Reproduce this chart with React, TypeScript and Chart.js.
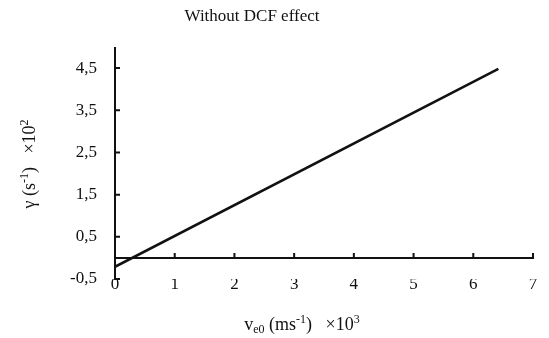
import React, { useEffect, useRef } from "react";
import { Chart, registerables } from "chart.js";

Chart.register(...registerables);

const chartTitle = "Without DCF effect";
const xTicks = [0, 1, 2, 3, 4, 5, 6, 7];
const yTicks = [-0.5, 0.5, 1.5, 2.5, 3.5, 4.5];
const lineX = [0, 6.42];
const lineY = [-0.21, 4.48];

const FONT = "'Liberation Serif', 'Times New Roman', serif";
const INK = "#111";

type Part = { t: string; size: number; dy: number };

function drawRich(ctx: CanvasRenderingContext2D, parts: Part[], x: number, y: number) {
  let total = 0;
  const widths = parts.map((p) => {
    ctx.font = `${p.size}px ${FONT}`;
    const w = ctx.measureText(p.t).width;
    total += w;
    return w;
  });
  let cx = x - total / 2;
  ctx.textAlign = "left";
  ctx.textBaseline = "alphabetic";
  parts.forEach((p, i) => {
    ctx.font = `${p.size}px ${FONT}`;
    ctx.fillText(p.t, cx, y + p.dy);
    cx += widths[i];
  });
}

const axesPlugin = {
  id: "customAxes",
  beforeDatasetsDraw(chart: any) {
    const ctx: CanvasRenderingContext2D = chart.ctx;
    const xs = chart.scales.x;
    const ys = chart.scales.y;
    const x0 = xs.getPixelForValue(0);
    const y0 = ys.getPixelForValue(0);
    ctx.save();
    ctx.strokeStyle = INK;
    ctx.lineWidth = 2;
    ctx.beginPath();
    ctx.moveTo(x0, ys.getPixelForValue(ys.max));
    ctx.lineTo(x0, ys.getPixelForValue(ys.min) + 1);
    ctx.moveTo(x0, y0);
    ctx.lineTo(xs.getPixelForValue(xs.max) + 1, y0);
    yTicks.forEach((v) => {
      const p = ys.getPixelForValue(v);
      ctx.moveTo(x0, p);
      ctx.lineTo(x0 + 5, p);
    });
    xTicks.forEach((v) => {
      if (v === 0) return;
      const p = xs.getPixelForValue(v);
      ctx.moveTo(p, y0);
      ctx.lineTo(p, y0 - 5);
    });
    ctx.stroke();
    ctx.restore();
  },
  afterDraw(chart: any) {
    const ctx: CanvasRenderingContext2D = chart.ctx;
    ctx.save();
    ctx.fillStyle = INK;
    // chart title
    drawRich(ctx, [{ t: chartTitle, size: 17, dy: 0 }], 252, 21);
    // x-axis title
    drawRich(
      ctx,
      [
        { t: "v", size: 18, dy: 0 },
        { t: "e0", size: 12, dy: 3 },
        { t: " (ms", size: 18, dy: 0 },
        { t: "-1", size: 12, dy: -7 },
        { t: ")   \u00d710", size: 18, dy: 0 },
        { t: "3", size: 12, dy: -7 },
      ],
      302,
      330
    );
    // y-axis title
    ctx.translate(35, 164);
    ctx.rotate(-Math.PI / 2);
    drawRich(
      ctx,
      [
        { t: "\u03b3 (s", size: 18, dy: 0 },
        { t: "-1", size: 12, dy: -7 },
        { t: ")   \u00d710", size: 18, dy: 0 },
        { t: "2", size: 12, dy: -7 },
      ],
      0,
      0
    );
    ctx.restore();
  },
};

export default function App() {
  const ref = useRef<HTMLCanvasElement>(null);
  useEffect(() => {
    if (!ref.current) return;
    const chart = new Chart(ref.current, {
      type: "scatter",
      data: {
        datasets: [
          {
            data: lineX.map((x, i) => ({ x, y: lineY[i] })),
            showLine: true,
            borderColor: INK,
            borderWidth: 2.5,
            pointRadius: 0,
            fill: false,
          },
        ],
      },
      options: {
        animation: false,
        responsive: false,
        layout: { padding: { top: 47, left: 0, right: 16, bottom: 0 } },
        plugins: {
          legend: { display: false },
          title: { display: false },
          tooltip: { enabled: false },
        },
        scales: {
          x: {
            type: "linear",
            min: 0,
            max: 7,
            grid: { display: false, drawTicks: false },
            border: { display: false },
            afterBuildTicks: (s: any) => {
              s.ticks = xTicks.map((value) => ({ value }));
            },
            afterFit: (s: any) => {
              s.height = 59;
            },
            ticks: {
              padding: -5,
              color: INK,
              font: { family: FONT, size: 17 },
              callback: (v: any) => String(v),
            },
          },
          y: {
            type: "linear",
            min: -0.5,
            max: 5,
            grid: { display: false, drawTicks: false },
            border: { display: false },
            afterBuildTicks: (s: any) => {
              s.ticks = yTicks.map((value) => ({ value }));
            },
            afterFit: (s: any) => {
              s.width = 115;
            },
            ticks: {
              padding: 18,
              color: INK,
              font: { family: FONT, size: 17 },
              callback: (v: any) => Number(v).toFixed(1).replace(".", ","),
            },
          },
        },
      },
      plugins: [axesPlugin],
    });
    return () => chart.destroy();
  }, []);
  return (
    <div style={{ position: "fixed", left: 0, top: 0, width: 549, height: 338, background: "#fff" }}>
      <canvas ref={ref} width={549} height={338} />
    </div>
  );
}
